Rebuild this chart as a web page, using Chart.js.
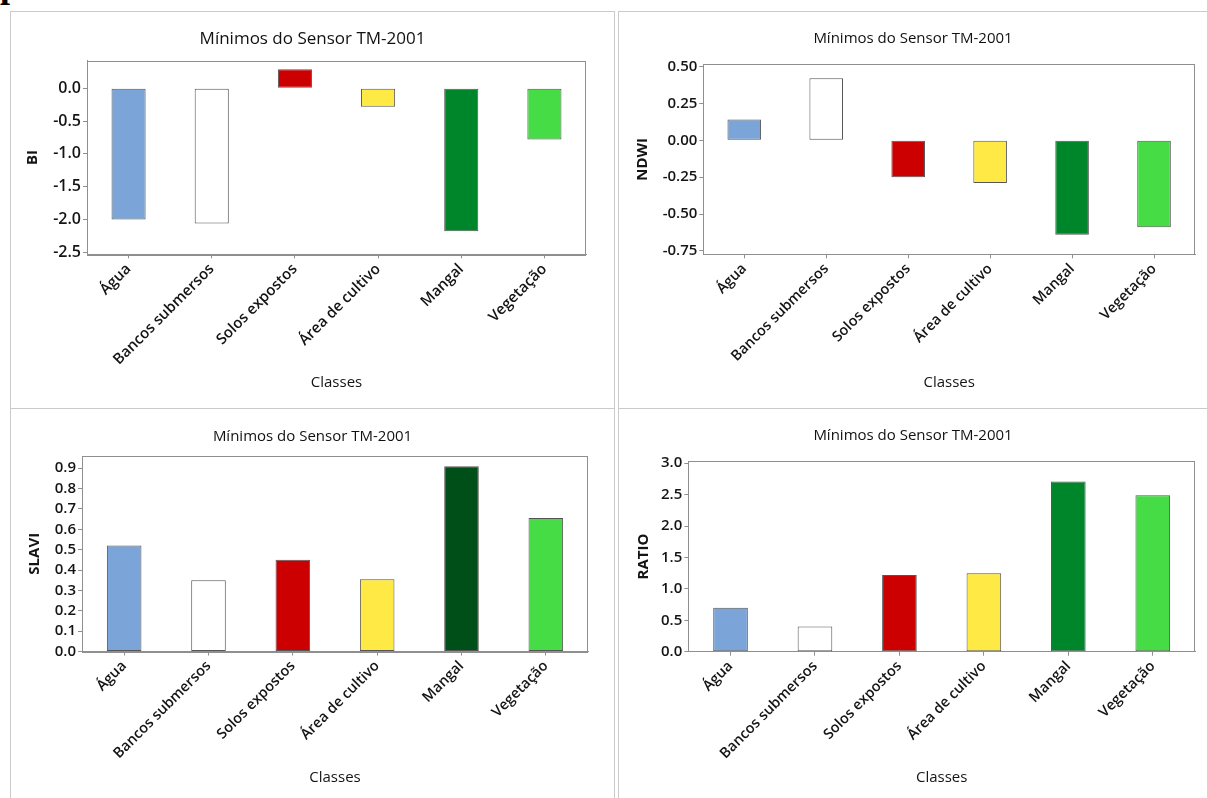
<!DOCTYPE html>
<html>
<head>
<meta charset="utf-8">
<script src="https://cdn.jsdelivr.net/npm/chart.js@4.4.1/dist/chart.umd.min.js"></script>
<style>
  html, body { margin: 0; padding: 0; background: #fff; }
  body { position: relative; width: 1207px; height: 798px; overflow: hidden; }
  .panel { position: absolute; box-sizing: border-box; border: 1px solid #cacaca; background: #fff; }
  canvas { position: absolute; }
  #mark { position: absolute; left: 0; top: -33px; font: bold 36px 'Liberation Serif', serif; line-height: 36px; color: #000; }
</style>
</head>
<body>
<div id="mark">p</div>
<div class="panel" style="left:10px;top:11px;width:605px;height:398px"></div>
<div class="panel" style="left:618px;top:11px;width:600px;height:398px"></div>
<div class="panel" style="left:10px;top:408px;width:605px;height:400px"></div>
<div class="panel" style="left:618px;top:408px;width:600px;height:400px"></div>
<canvas id="cBI"></canvas>
<canvas id="cNDWI"></canvas>
<canvas id="cSLAVI"></canvas>
<canvas id="cRATIO"></canvas>
<script>
// Land-cover classes shown on every panel
const categories = ['Água', 'Bancos submersos', 'Solos expostos', 'Área de cultivo', 'Mangal', 'Vegetação'];
const chartTitle = 'Mínimos do Sensor TM-2001';
const classAxisTitle = 'Classes';

// Minimum index values per class
const biValues    = [-2.00, -2.06, 0.29, -0.28, -2.18, -0.78];
const ndwiValues  = [0.14, 0.42, -0.25, -0.29, -0.64, -0.59];
const slaviValues = [0.52, 0.35, 0.45, 0.355, 0.91, 0.655];
const ratioValues = [0.70, 0.40, 1.22, 1.25, 2.71, 2.49];

// Value-axis tick labels
const biTicks    = [-2.5, -2.0, -1.5, -1.0, -0.5, 0.0];
const ndwiTicks  = [-0.75, -0.50, -0.25, 0.00, 0.25, 0.50];
const slaviTicks = [0.0, 0.1, 0.2, 0.3, 0.4, 0.5, 0.6, 0.7, 0.8, 0.9];
const ratioTicks = [0.0, 0.5, 1.0, 1.5, 2.0, 2.5, 3.0];

// Class colours
const classColors = ['#7ba5d8', '#ffffff', '#cc0000', '#ffe944', '#00862a', '#46dc46'];
const slaviColors = ['#7ba5d8', '#ffffff', '#cc0000', '#ffe944', '#004f19', '#46dc46'];

const AXIS_GREY = '#8f8f8f';
const TEXT = '#141414';
const FONT = "'Open Sans', 'Noto Sans', sans-serif";

// Panel geometry (page pixels): canvas box, plot rectangle and text anchors
const panels = [
  { id: 'cBI', label: 'BI', values: biValues, ticks: biTicks, decimals: 1, min: -2.53, max: 0.42, colors: classColors,
    box: { x: 11, y: 12, w: 603, h: 396 }, plot: { l: 87, t: 60.7, r: 586, b: 254.3 },
    titleY: 39, yTitleX: 33, xTitleY: 383, titleSize: 17, tickSize: 16, catSize: 15 },
  { id: 'cNDWI', label: 'NDWI', values: ndwiValues, ticks: ndwiTicks, decimals: 2, min: -0.773, max: 0.515, colors: classColors,
    box: { x: 619, y: 12, w: 588, h: 396 }, plot: { l: 703.3, t: 64.3, r: 1195, b: 254.3 },
    titleY: 38.5, yTitleX: 643, xTitleY: 383, titleSize: 15, tickSize: 15, catSize: 14.5 },
  { id: 'cSLAVI', label: 'SLAVI', values: slaviValues, ticks: slaviTicks, decimals: 1, min: 0, max: 0.96, colors: slaviColors,
    box: { x: 11, y: 409, w: 603, h: 389 }, plot: { l: 82, t: 456, r: 588, b: 651.5 },
    titleY: 436.5, yTitleX: 35, xTitleY: 778, titleSize: 15, tickSize: 15, catSize: 14.5 },
  { id: 'cRATIO', label: 'RATIO', values: ratioValues, ticks: ratioTicks, decimals: 1, min: 0, max: 3.03, colors: classColors,
    box: { x: 619, y: 409, w: 588, h: 389 }, plot: { l: 688.3, t: 461.3, r: 1195, b: 651.7 },
    titleY: 436, yTitleX: 644, xTitleY: 778, titleSize: 15, tickSize: 15, catSize: 14.5 }
];

// Frames the whole plot rectangle
const plotFrame = {
  id: 'plotFrame',
  afterDatasetsDraw(chart) {
    const { ctx, chartArea: a } = chart;
    ctx.save();
    ctx.strokeStyle = AXIS_GREY;
    ctx.lineWidth = 1;
    ctx.strokeRect(Math.round(a.left) + 0.5, Math.round(a.top) + 0.5,
                   Math.round(a.right - a.left) - 1, Math.round(a.bottom - a.top));
    ctx.restore();
  }
};

Chart.defaults.font.family = FONT;
Chart.defaults.color = TEXT;

panels.forEach(p => {
  const cv = document.getElementById(p.id);
  cv.width = p.box.w; cv.height = p.box.h;
  cv.style.left = p.box.x + 'px'; cv.style.top = p.box.y + 'px';
  cv.style.width = p.box.w + 'px'; cv.style.height = p.box.h + 'px';

  const titleLH = p.titleSize * 1.2;
  const axisLH = 15 * 1.2;
  const side = p.box.x + p.box.w - p.plot.r;             // symmetric side padding
  const padTop = (p.titleY - p.box.y) - titleLH / 2;
  const titleGap = (p.plot.t - p.box.y) - padTop - titleLH;
  const padBottom = (p.box.y + p.box.h) - p.xTitleY - axisLH / 2;
  const yWidth = p.plot.l - p.box.x - side;
  const xHeight = (p.box.h - padBottom) - (p.plot.b - p.box.y);
  const yTitleOffset = (p.yTitleX - p.box.x - side) - axisLH / 2;

  new Chart(cv, {
    type: 'bar',
    data: {
      labels: categories,
      datasets: [{
        data: p.values,
        backgroundColor: p.colors,
        borderColor: '#555555',
        borderWidth: 1,
        borderSkipped: false,
        barPercentage: 0.41,
        categoryPercentage: 1
      }]
    },
    options: {
      responsive: false,
      animation: false,
      devicePixelRatio: 1,
      layout: { padding: { left: side, right: side, top: padTop, bottom: padBottom } },
      plugins: {
        legend: { display: false },
        tooltip: { enabled: false },
        title: {
          display: true, text: chartTitle, color: '#111',
          font: { size: p.titleSize, weight: 'normal' },
          padding: { top: 0, bottom: titleGap }
        }
      },
      scales: {
        x: {
          type: 'category',
          offset: true,
          grid: { display: true, drawOnChartArea: false, drawTicks: true, tickLength: 4, color: AXIS_GREY, offset: false },
          border: { display: true, color: AXIS_GREY },
          ticks: { minRotation: 45, maxRotation: 45, autoSkip: false, padding: 2, color: TEXT,
                   font: { size: p.catSize, weight: '600' } },
          title: { display: true, text: classAxisTitle, color: TEXT, font: { size: 15 }, padding: { top: 0, bottom: 0 } },
          afterFit(scale) { scale.height = xHeight; }
        },
        y: {
          type: 'linear',
          min: p.min, max: p.max,
          grid: { display: true, drawOnChartArea: false, drawTicks: true, tickLength: 4, color: AXIS_GREY },
          border: { display: true, color: AXIS_GREY },
          ticks: {
            padding: 2, color: TEXT, font: { size: p.tickSize, weight: '600' },
            callback: v => Number(v).toFixed(p.decimals)
          },
          afterBuildTicks(scale) { scale.ticks = p.ticks.map(v => ({ value: v })); },
          title: { display: true, text: p.label, color: TEXT, font: { size: 15, weight: 'bold' },
                   padding: { top: yTitleOffset, bottom: 0 } },
          afterFit(scale) { scale.width = yWidth; }
        }
      }
    },
    plugins: [plotFrame]
  });
});
</script>
</body>
</html>
